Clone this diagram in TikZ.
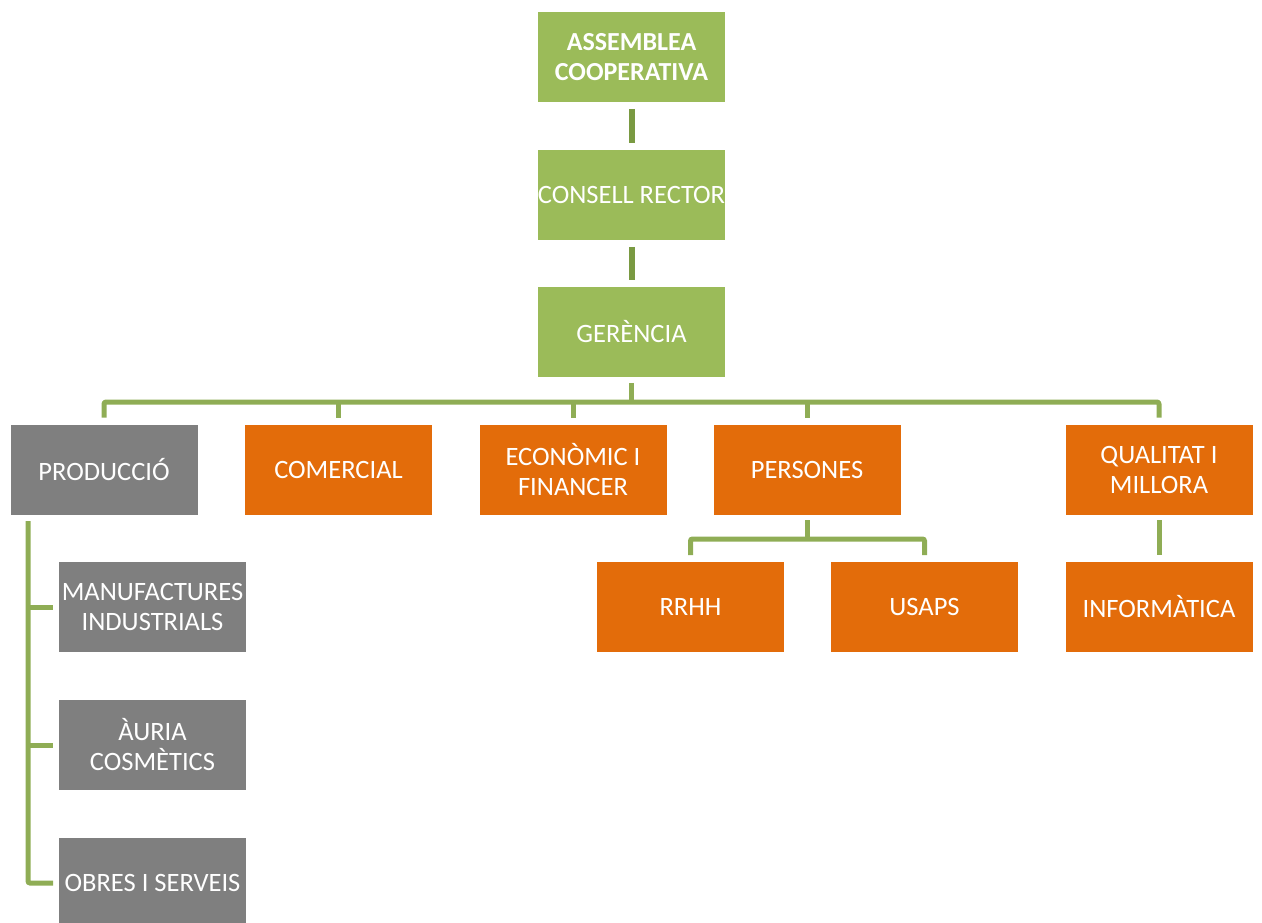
\documentclass[tikz,border=0pt]{standalone}
\usepackage{fontspec}
\setmainfont{Carlito}
\definecolor{boxgreen}{HTML}{9BBB59}
\definecolor{boxorange}{HTML}{E36C0A}
\definecolor{boxgray}{HTML}{7F7F7F}
\definecolor{linegreen}{HTML}{8FAD55}
\definecolor{darkline}{HTML}{7A9A42}
\begin{document}
\begin{tikzpicture}[x=1pt,y=-1pt,
  box/.style={minimum width=188pt,minimum height=91pt,inner sep=0pt,draw=white,line width=0.8pt,
    text=white,align=center,font=\fontsize{26.5}{30}\selectfont},
  gbox/.style={box,fill=boxgreen},
  obox/.style={box,fill=boxorange},
  ybox/.style={box,fill=boxgray},
  conn/.style={draw=linegreen,line width=5pt},
  topconn/.style={draw=darkline,line width=6pt}]
\useasboundingbox (0,0) rectangle (1262,922);
% top chain
\node[gbox,font=\fontsize{26}{30}\selectfont\bfseries] (asm) at (631.5,57) {ASSEMBLEA\\COOPERATIVA};
\node[gbox] (cr) at (631.5,195) {CONSELL RECTOR};
\node[gbox] (ger) at (631.5,332) {GERÈNCIA};
% second row
\node[ybox] (prod) at (104,469.5) {PRODUCCIÓ};
\node[obox] (com) at (338.5,469.5) {COMERCIAL};
\node[obox] (eco) at (573,469.5) {ECONÒMIC I\\FINANCER};
\node[obox] (per) at (807,469.5) {PERSONES};
\node[obox] (qua) at (1159,469.5) {QUALITAT I\\MILLORA};
% third row
\node[ybox] (man) at (152.5,607) {MANUFACTURES\\INDUSTRIALS};
\node[ybox] (aur) at (152.5,745) {ÀURIA\\COSMÈTICS};
\node[ybox] (obr) at (152.5,883) {OBRES I SERVEIS};
\node[obox] (rrhh) at (690.5,607) {RRHH};
\node[obox] (usa) at (924.5,607) {USAPS};
\node[obox] (inf) at (1159,607) {INFORMÀTICA};
% coordinates
\coordinate (bus) at (631.5,402);
\coordinate (trunk) at (28,521);
\coordinate (pbus) at (807,539);
% connectors top
\draw[topconn] ([yshift=-6pt]asm.south) -- ([yshift=6pt]cr.north);
\draw[topconn] ([yshift=-6pt]cr.south) -- ([yshift=6pt]ger.north);
\draw[conn] ([yshift=-5pt]ger.south) -- (bus);
\draw[conn,line join=round,rounded corners=2pt] ([yshift=6pt]prod.north) |- (bus) -| ([yshift=6pt]qua.north);
\foreach \n in {com,eco,per}{
  \draw[conn] ([yshift=6pt]\n.north) -- (\n.north |- bus);
}
% production branch
\draw[conn,rounded corners=2pt] (trunk) |- ([xshift=-5pt]obr.west);
\draw[conn] (trunk |- man.west) -- ([xshift=-5pt]man.west);
\draw[conn] (trunk |- aur.west) -- ([xshift=-5pt]aur.west);
% persones branch
\draw[conn] ([yshift=-5pt]per.south) -- (pbus);
\draw[conn,rounded corners=2pt] ([yshift=6pt]rrhh.north) |- (pbus) -| ([yshift=6pt]usa.north);
% qualitat branch
\draw[conn] ([yshift=-5pt]qua.south) -- ([yshift=6pt]inf.north);
\end{tikzpicture}
\end{document}
